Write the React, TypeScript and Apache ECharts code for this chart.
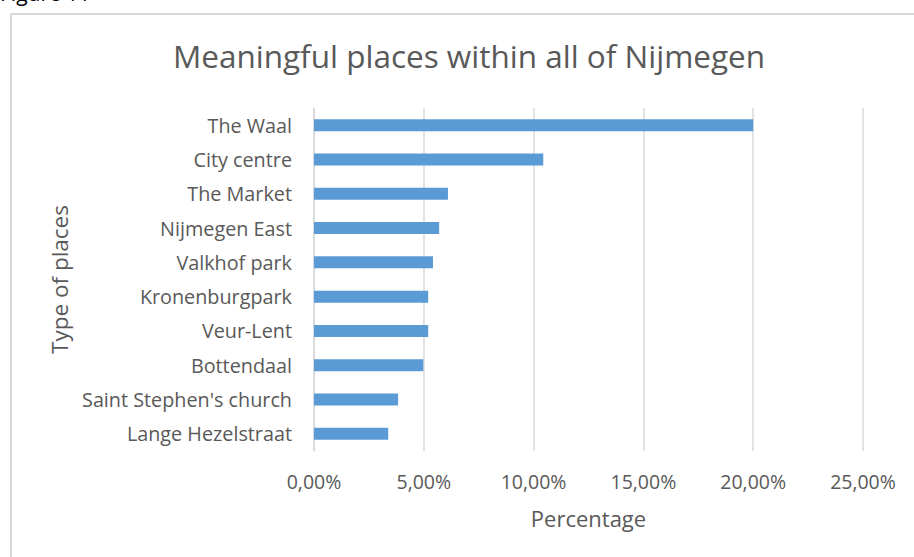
import React, { useEffect, useRef } from "react";
import * as echarts from "echarts";

const categories = [
  "The Waal",
  "City centre",
  "The Market",
  "Nijmegen East",
  "Valkhof park",
  "Kronenburgpark",
  "Veur-Lent",
  "Bottendaal",
  "Saint Stephen's church",
  "Lange Hezelstraat",
];
const values = [0.2, 0.1044, 0.061, 0.057, 0.0542, 0.052, 0.052, 0.0498, 0.0383, 0.0338];
const tickMin = 0;
const tickMax = 0.25;
const tickStep = 0.05;

const FONT = "'Open Sans', sans-serif";
const GREY = "#595959";

export default function App() {
  const ref = useRef<HTMLDivElement>(null);
  useEffect(() => {
    if (!ref.current) return;
    const chart = echarts.init(ref.current, null, { renderer: "svg" });
    chart.setOption({
      animation: false,
      backgroundColor: "#ffffff",
      title: {
        text: "Meaningful places within all of Nijmegen",
        left: 464,
        top: 34,
        textAlign: "center",
        textStyle: { fontFamily: FONT, fontSize: 31.5, fontWeight: "normal", color: GREY },
      },
      graphic: [
        {
          type: "rect",
          shape: { x: 11, y: 14, width: 920, height: 560 },
          style: { fill: "none", stroke: "#d9d9d9", lineWidth: 2 },
          silent: true,
        },
        {
          type: "text",
          x: 0,
          y: 3,
          style: {
            text: "Figure 11",
            fontFamily: FONT,
            fontSize: 21,
            fill: "#000000",
            textVerticalAlign: "bottom",
            verticalAlign: "bottom",
          },
          silent: true,
        },
      ],
      grid: { left: 314, right: 51, top: 108, bottom: 106, containLabel: false },
      xAxis: {
        type: "value",
        min: tickMin,
        max: tickMax,
        interval: tickStep,
        axisLine: { show: false },
        axisTick: { show: false },
        splitLine: { show: true, lineStyle: { color: "#d9d9d9", width: 1.5 } },
        axisLabel: {
          margin: 20,
          fontFamily: FONT,
          fontSize: 19.5,
          color: GREY,
          formatter: (v: number) => (v * 100).toFixed(2).replace(".", ",") + "%",
        },
        name: "Percentage",
        nameLocation: "middle",
        nameGap: 56,
        nameTextStyle: { fontFamily: FONT, fontSize: 22, color: GREY },
      },
      yAxis: {
        type: "category",
        inverse: true,
        data: categories,
        axisLine: { show: true, lineStyle: { color: "#d9d9d9", width: 1.5 } },
        axisTick: { show: false },
        axisLabel: { margin: 22, fontFamily: FONT, fontSize: 19.8, color: GREY },
        name: "Type of places",
        nameLocation: "middle",
        nameRotate: 90,
        nameGap: 243,
        nameTextStyle: { fontFamily: FONT, fontSize: 22.5, color: GREY },
      },
      series: [
        {
          type: "bar",
          data: values,
          barWidth: 12,
          itemStyle: { color: "#5b9bd5" },
        },
      ],
    });
    return () => chart.dispose();
  }, []);
  return (
    <div
      ref={ref}
      style={{ position: "fixed", left: 0, top: 0, width: 914, height: 557, background: "#fff" }}
    />
  );
}
